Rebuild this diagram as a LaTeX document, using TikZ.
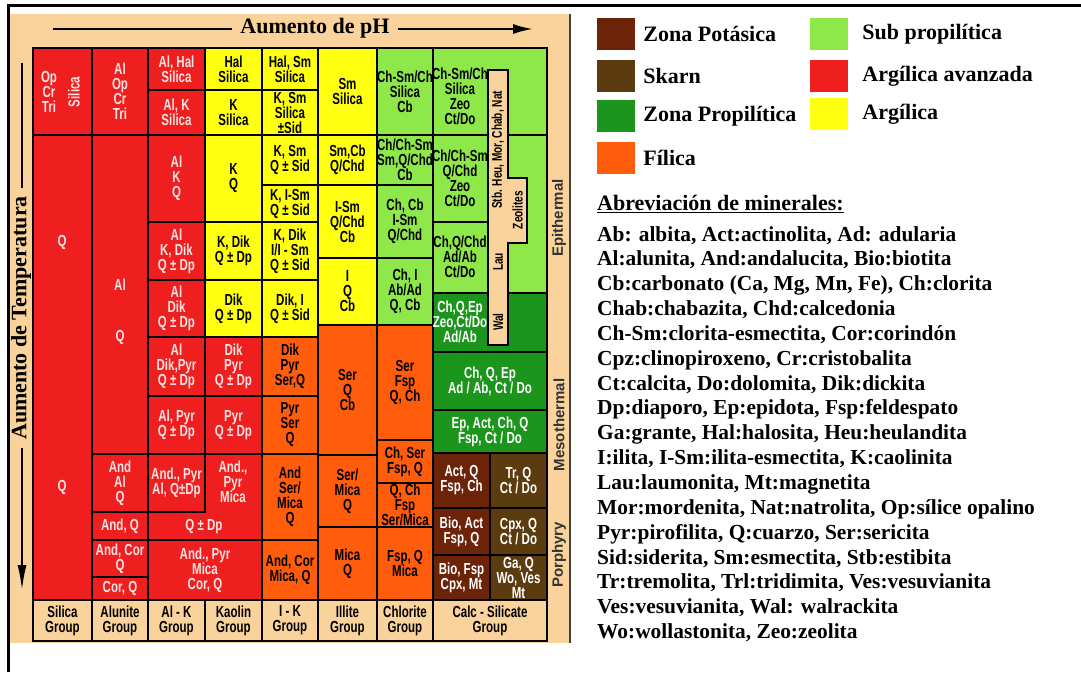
\documentclass[tikz,border=0pt]{standalone}
\usepackage{fontspec}
\setmainfont{Liberation Serif}
\newfontfamily\cellfont{Liberation Sans}[FakeStretch=0.72]
\newfontfamily\sidefont{Liberation Sans}
\usetikzlibrary{arrows.meta,calc,positioning}
\definecolor{panelTan}{HTML}{F9D39B}
\definecolor{argAvz}{HTML}{EF1F1F}
\definecolor{argYel}{HTML}{FFFF10}
\definecolor{filOra}{HTML}{FF5C0C}
\definecolor{subGrn}{HTML}{8EE84A}
\definecolor{proGrn}{HTML}{1C951C}
\definecolor{potBrn}{HTML}{6C2308}
\definecolor{sknBrn}{HTML}{5C3C0E}
\definecolor{pinkTxt}{HTML}{FBE3E3}

% one box of the chart: name, corner, corner, zone style, text
\newcommand\cell[5]{%
  \draw[cellline,#4] (#2) rectangle (#3);
  \node[celltxt,#4,fill=none] (#1) at ($(#2)!0.5!(#3)$) {#5};}

\begin{document}
\begin{tikzpicture}[x=1pt,y=-1pt,
  cellline/.style={draw=black,line width=2pt},
  celltxt/.style={font=\cellfont\bfseries\fontsize{16}{15}\selectfont,align=center,inner sep=0pt},
  argav/.style={fill=argAvz,text=pinkTxt},
  argil/.style={fill=argYel,text=black},
  filic/.style={fill=filOra,text=black},
  subpro/.style={fill=subGrn,text=black},
  propil/.style={fill=proGrn,text=white},
  potas/.style={fill=potBrn,text=white},
  skarn/.style={fill=sknBrn,text=white},
  grouplbl/.style={fill=panelTan,text=black},
  axislbl/.style={font=\bfseries\fontsize{22}{24}\selectfont,inner sep=8pt},
  axisline/.style={line width=2pt},
  striptxt/.style={font=\cellfont\bfseries\fontsize{14}{14}\selectfont,inner sep=0pt},
  sidelbl/.style={font=\sidefont\bfseries\fontsize{15}{15}\selectfont,text=black!80,inner sep=0pt},
  legsq/.style={minimum width=38pt,minimum height=32pt,inner sep=0pt},
  legtxt/.style={font=\bfseries\fontsize{22}{24}\selectfont,inner sep=0pt,anchor=west},
  listtxt/.style={font=\bfseries\fontsize{21.4}{24}\selectfont,inner sep=0pt,anchor=base west}]
  \useasboundingbox (0,0) rectangle (1081,672);
  \fill[white] (0,0) rectangle (1081,672);
  \fill[panelTan] (10,14) rectangle (570,643);
  \draw[line width=1.2pt,black!75] (570,14) -- (570,643);
  \draw[line width=3pt] (8,672) -- (8,5) -- (1081,5);

  % axes
  \node[axislbl] (phlbl) at (315,28) {Aumento de pH};
  \coordinate (phL) at (53,29);
  \coordinate (phR) at (533,29);
  \draw[axisline] (phL) -- (phL -| phlbl.west);
  \draw[axisline,-{Latex[length=20pt,width=10pt]}] (phR -| phlbl.east) -- (phR);
  \node[axislbl,rotate=90] (tlbl) at (21,318) {Aumento de Temperatura};
  \coordinate (tT) at (22,63);
  \coordinate (tB) at (22,590);
  \draw[axisline] (tT) -- (tT |- tlbl.east);
  \draw[axisline,-{Latex[length=25pt,width=9pt]}] (tB |- tlbl.west) -- (tB);

  % Silica group
  \cell{sA}{33,48}{92,135}{argav}{}
  \node[celltxt,text=pinkTxt] (sA1) at (49,92) {Op\\Cr\\Tri};
  \node[celltxt,text=pinkTxt,rotate=90] (sA2) at (74,92) {Silica};
  \cell{sB}{33,135}{92,600}{argav}{}
  \node[celltxt,text=pinkTxt] (sB1) at (62,242) {Q};
  \node[celltxt,text=pinkTxt] (sB2) at (62,487) {Q};
  % Alunite group
  \cell{aA}{92,48}{148,135}{argav}{Al\\Op\\Cr\\Tri}
  \cell{aB}{92,135}{148,454}{argav}{}
  \node[celltxt,text=pinkTxt] (aB1) at (120,285) {Al};
  \node[celltxt,text=pinkTxt] (aB2) at (120,337) {Q};
  \cell{aC}{92,454}{148,512}{argav}{And\\Al\\Q}
  \cell{aD}{92,512}{148,540}{argav}{And, Q}
  \cell{aE}{92,540}{148,577}{argav}{And, Cor\\Q}
  \cell{aF}{92,577}{148,600}{argav}{Cor, Q}
  % Al-K group
  \cell{kA}{148,48}{205,90}{argav}{Al, Hal\\Silica}
  \cell{kB}{148,90}{205,135}{argav}{Al, K\\Silica}
  \cell{kC}{148,135}{205,222}{argav}{Al\\K\\Q}
  \cell{kD}{148,222}{205,280}{argav}{Al\\K, Dik\\Q ± Dp}
  \cell{kE}{148,280}{205,337}{argav}{Al\\Dik\\Q ± Dp}
  \cell{kF}{148,337}{205,396}{argav}{Al\\Dik,Pyr\\Q ± Dp}
  \cell{kG}{148,396}{205,454}{argav}{Al, Pyr\\Q ± Dp}
  \cell{kH}{148,454}{205,512}{argav}{And., Pyr\\Al, Q±Dp}
  \draw[cellline,argav] (205,454) -- (262,454) -- (262,540) -- (148,540) -- (148,512) -- (205,512) -- cycle;
  \node[celltxt,text=pinkTxt] (kI1) at (233,482) {And.,\\Pyr\\Mica};
  \node[celltxt,text=pinkTxt] (kI2) at (204,527) {Q ± Dp};
  \cell{kJ}{148,540}{262,600}{argav}{And., Pyr\\Mica\\Cor, Q}
  % Kaolin group
  \cell{cA}{205,48}{262,90}{argil}{Hal\\Silica}
  \cell{cB}{205,90}{262,135}{argil}{K\\Silica}
  \cell{cC}{205,135}{262,222}{argil}{K\\Q}
  \cell{cD}{205,222}{262,280}{argil}{K, Dik\\Q ± Dp}
  \cell{cE}{205,280}{262,337}{argil}{Dik\\Q ± Dp}
  \cell{cF}{205,337}{262,396}{argav}{Dik\\Pyr\\Q ± Dp}
  \cell{cG}{205,396}{262,454}{argav}{Pyr\\Q ± Dp}
  % I-K group
  \cell{iA}{262,48}{318,90}{argil}{Hal, Sm\\Silica}
  \cell{iB}{262,90}{318,135}{argil}{K, Sm\\Silica\\±Sid}
  \cell{iC}{262,135}{318,185}{argil}{K, Sm\\Q ± Sid}
  \cell{iD}{262,185}{318,222}{argil}{K, I-Sm\\Q ± Sid}
  \cell{iE}{262,222}{318,280}{argil}{K, Dik\\I/I - Sm\\Q ± Sid}
  \cell{iF}{262,280}{318,337}{argil}{Dik, I\\Q ± Sid}
  \cell{iG}{262,337}{318,396}{filic}{Dik\\Pyr\\Ser,Q}
  \cell{iH}{262,396}{318,454}{filic}{Pyr\\Ser\\Q}
  \cell{iI}{262,454}{318,540}{filic}{And\\Ser/\\Mica\\Q}
  \cell{iJ}{262,540}{318,600}{filic}{And, Cor\\Mica, Q}
  % Illite group
  \cell{lA}{318,48}{377,135}{argil}{Sm\\Silica}
  \cell{lB}{318,135}{377,185}{argil}{Sm,Cb\\Q/Chd}
  \cell{lC}{318,185}{377,258}{argil}{I-Sm\\Q/Chd\\Cb}
  \cell{lD}{318,258}{377,325}{argil}{I\\Q\\Cb}
  \cell{lE}{318,325}{377,455}{filic}{Ser\\Q\\Cb}
  \cell{lF}{318,455}{377,527}{filic}{Ser/\\Mica\\Q}
  \cell{lG}{318,527}{377,600}{filic}{Mica\\Q}
  % Chlorite group
  \cell{hA}{377,48}{433,135}{subpro}{Ch-Sm/Ch\\Silica\\Cb}
  \cell{hB}{377,135}{433,185}{subpro}{Ch/Ch-Sm\\Sm,Q/Chd\\Cb}
  \cell{hC}{377,185}{433,258}{subpro}{Ch, Cb\\I-Sm\\Q/Chd}
  \cell{hD}{377,258}{433,325}{subpro}{Ch, I\\Ab/Ad\\Q, Cb}
  \cell{hE}{377,325}{433,440}{filic}{Ser\\Fsp\\Q, Ch}
  \cell{hF}{377,440}{433,483}{filic}{Ch, Ser\\Fsp, Q}
  \cell{hG}{377,483}{433,527}{filic}{Q, Ch\\Fsp\\Ser/Mica}
  \cell{hH}{377,527}{433,600}{filic}{Fsp, Q\\Mica}
  % Calc-silicate group
  \cell{xA}{433,48}{547,135}{subpro}{}
  \node[celltxt] (xA1) at (460,96) {Ch-Sm/Ch\\Silica\\Zeo\\Ct/Do};
  \cell{xB}{433,135}{547,293}{subpro}{}
  \draw[cellline] (433,222) -- (488,222);
  \node[celltxt] (xB1) at (460,178) {Ch/Ch-Sm\\Q/Chd\\Zeo\\Ct/Do};
  \node[celltxt] (xB2) at (460,257) {Ch,Q/Chd\\Ad/Ab\\Ct/Do};
  \cell{xC}{433,293}{547,352}{propil}{}
  \node[celltxt,text=white] (xC1) at (460,322) {Ch,Q,Ep\\Zeo,Ct/Do\\Ad/Ab};
  \cell{xD}{433,352}{547,410}{propil}{Ch, Q, Ep\\Ad / Ab, Ct / Do}
  \cell{xE}{433,410}{547,453}{propil}{Ep, Act, Ch, Q\\Fsp, Ct / Do}
  \cell{xF}{433,453}{490,508}{potas}{Act, Q\\Fsp, Ch}
  \cell{xG}{490,453}{547,508}{skarn}{Tr, Q\\Ct / Do}
  \cell{xH}{433,508}{490,555}{potas}{Bio, Act\\Fsp, Q}
  \cell{xI}{490,508}{547,555}{skarn}{Cpx, Q\\Ct / Do}
  \cell{xJ}{433,555}{490,600}{potas}{Bio, Fsp\\Cpx, Mt}
  \cell{xK}{490,555}{547,600}{skarn}{Ga, Q\\Wo, Ves\\Mt}
  % zeolite strip
  \draw[line width=1.5pt,fill=panelTan] (488,70) -- (508,70) -- (508,178) -- (527,178) -- (527,243) -- (508,243) -- (508,345) -- (488,345) -- cycle;
  \node[striptxt,rotate=90] (zeoA) at (498,150) {Stb. Heu, Mor, Chab, Nat};
  \node[striptxt,rotate=90] (zeoB) at (517.5,210) {Zeolites};
  \node[striptxt,rotate=90] (zeoC) at (498,262) {Lau};
  \node[striptxt,rotate=90] (zeoD) at (498,322) {Wal};
  % group names
  \foreach \xa/\xb/\t [count=\i] in {33/92/Silica, 92/148/Alunite, 148/205/Al - K, 205/262/Kaolin, 262/318/I - K, 318/377/Illite, 377/433/Chlorite, 433/547/Calc - Silicate}
    {\cell{g\i}{\xa,600}{\xb,641}{grouplbl}{\t\\Group}}
  \draw[line width=2.5pt] (33,48) rectangle (547,641);
  \node[sidelbl,rotate=90] (epi) at (559,218) {Epithermal};
  \node[sidelbl,rotate=90] (meso) at (559,425) {Mesothermal};
  \node[sidelbl,rotate=90] (por) at (559,555) {Porphyry};

  % legend
  \foreach \yy/\cc/\t [count=\i] in {34/potBrn/Zona Potásica, 76/sknBrn/Skarn, 116/proGrn/Zona Propilítica, 158/filOra/Fílica}{
    \node[legsq,fill=\cc] (sqL\i) at (616,\yy) {};
    \node[legtxt,right=8pt of sqL\i] (ltL\i) {\t};}
  \foreach \yy/\cc/\t [count=\i] in {34/subGrn/Sub propilítica, 76/argAvz/Argílica avanzada, 114/argYel/Argílica}{
    \node[legsq,fill=\cc] (sqR\i) at (829,\yy) {};
    \node[legtxt,right=14pt of sqR\i] (ltR\i) {\t};}
  \node[listtxt,font=\bfseries\fontsize{22}{24}\selectfont] (abrev) at (597,210) {\underline{Abreviación de minerales:}};
  \foreach \t [count=\i from 0] in {{Ab: albita, Act:actinolita, Ad: adularia},
    {Al:alunita, And:andalucita, Bio:biotita},
    {Cb:carbonato (Ca, Mg, Mn, Fe), Ch:clorita},
    {Chab:chabazita, Chd:calcedonia},
    {Ch-Sm:clorita-esmectita, Cor:corindón},
    {Cpz:clinopiroxeno, Cr:cristobalita},
    {Ct:calcita, Do:dolomita, Dik:dickita},
    {Dp:diaporo, Ep:epidota, Fsp:feldespato},
    {Ga:grante, Hal:halosita, Heu:heulandita},
    {I:ilita, I-Sm:ilita-esmectita, K:caolinita},
    {Lau:laumonita, Mt:magnetita},
    {Mor:mordenita, Nat:natrolita, Op:sílice opalino},
    {Pyr:pirofilita, Q:cuarzo, Ser:sericita},
    {Sid:siderita, Sm:esmectita, Stb:estibita},
    {Tr:tremolita, Trl:tridimita, Ves:vesuvianita},
    {Ves:vesuvianita, Wal: walrackita},
    {Wo:wollastonita, Zeo:zeolita}}
    {\node[listtxt] (ab\i) at (597,241+24.85*\i) {\t};}
\end{tikzpicture}
\end{document}
